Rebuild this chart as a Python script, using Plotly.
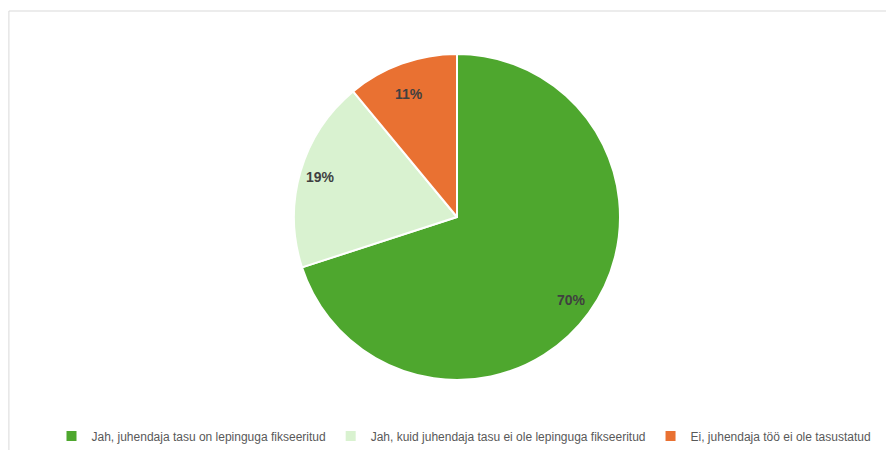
import math
import plotly.graph_objects as go

labels = [
    "Jah, juhendaja tasu on lepinguga fikseeritud",
    "Jah, kuid juhendaja tasu ei ole lepinguga fikseeritud",
    "Ei, juhendaja töö ei ole tasustatud",
]
values = [70, 19, 11]
colors = ["#4EA72E", "#D9F2D0", "#E97132"]

W, H = 894, 450
# pie placement in figure pixels (centre and radius)
CX, CY, R = 449, 209, 163
dom_x = [(CX - R) / W, (CX + R) / W]
dom_y = [(H - CY - R) / H, (H - CY + R) / H]

fig = go.Figure(go.Pie(
    labels=labels,
    values=values,
    sort=False,
    direction="clockwise",
    rotation=0,
    marker=dict(colors=colors, line=dict(color="white", width=2)),
    textinfo="none",
    domain=dict(x=dom_x, y=dom_y),
    hoverinfo="label+percent",
))

# Excel-style data labels, placed near the rim along each slice's mid angle
total = sum(values)
cum = 0
for v in values:
    mid = (cum + v / 2) / total * 2 * math.pi
    cum += v
    px = CX + 0.87 * R * math.sin(mid)
    py = CY - 0.87 * R * math.cos(mid)
    fig.add_annotation(
        x=px / W, y=1 - py / H, xref="paper", yref="paper",
        text=f"{round(v / total * 100)}%", showarrow=False,
        font=dict(family="Liberation Sans", size=14, color="#404040", weight="bold"),
    )

# chart-area frame
fig.add_shape(type="rect", xref="paper", yref="paper",
              x0=0.001, x1=1.05, y0=-0.05, y1=1 - 3 / H,
              line=dict(color="#D9D9D9", width=1))

fig.update_layout(
    width=W, height=H,
    margin=dict(l=0, r=0, t=0, b=0),
    paper_bgcolor="white",
    showlegend=True,
    legend=dict(
        orientation="h", x=456 / W, xanchor="center", y=1 - 428 / H, yanchor="middle",
        font=dict(family="Liberation Sans", size=12, color="#595959"),
        itemwidth=30,
    ),
)

fig.write_html("out.html")
